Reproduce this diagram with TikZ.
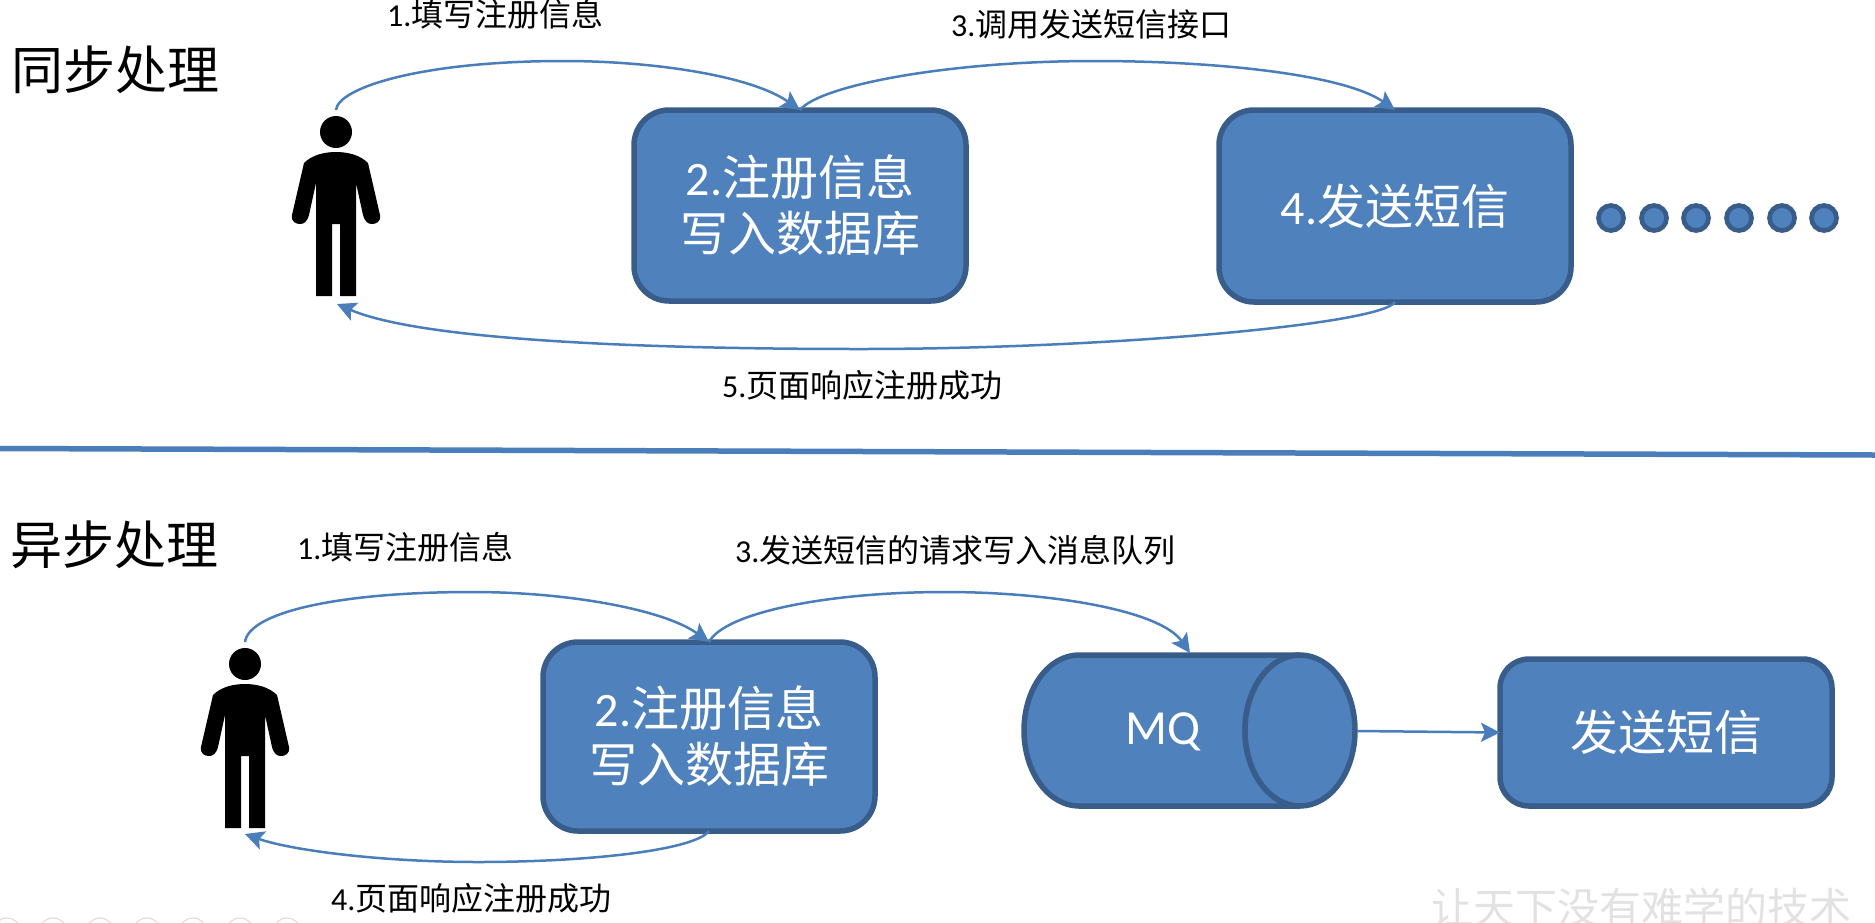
\documentclass[tikz,border=0pt]{standalone}
\usepackage{fontspec}
\usetikzlibrary{arrows.meta,shapes.geometric}
\setmainfont{Noto Sans CJK SC}
\newfontfamily\latfont{Carlito}
\definecolor{boxfill}{HTML}{4F81BD}
\definecolor{boxline}{HTML}{385D8A}
\definecolor{connline}{HTML}{4A7EBB}
\definecolor{wmark}{HTML}{E2E2E2}
\definecolor{faint}{HTML}{DCDCDC}
\tikzset{
  boxnode/.style={draw=boxline,fill=boxfill,line width=5.5pt,rounded corners=35pt,text=white,
    inner sep=0pt,outer sep=0pt,align=center,font=\fontsize{48}{56}\selectfont},
  smallbox/.style={boxnode,rounded corners=29pt},
  conn/.style={draw=connline,line width=2.5pt,-{Stealth[length=19pt,width=19pt,inset=4pt]}},
  steplabel/.style={inner sep=0pt,font=\fontsize{32}{36}\selectfont,text=black},
  titlelabel/.style={inner sep=0pt,font=\fontsize{52}{60}\selectfont,text=black},
  dotnode/.style={circle,draw=boxline,fill=boxfill,line width=4.7pt,minimum size=25pt,inner sep=0pt},
  figure shape/.pic={
    \fill[black] (0,22) circle[radius=16];
    \fill[black] (0,42) .. controls (12,42) and (24,45) .. (32,53)
      -- (44,105) .. controls (45,112) and (40,114) .. (36,114)
      .. controls (32,114) and (29,112) .. (27,105)
      -- (20,73) -- (20,186) -- (4,186) -- (4,114) -- (-4,114) -- (-4,186) -- (-20,186) -- (-20,73)
      -- (-27,105) .. controls (-29,112) and (-32,114) .. (-36,114)
      .. controls (-40,114) and (-45,112) .. (-44,105)
      -- (-32,53) .. controls (-24,45) and (-12,42) .. (0,42) -- cycle;
  }
}
\begin{document}
\begin{tikzpicture}[x=1pt,y=-1pt]
\useasboundingbox (0,0) rectangle (1875,922);
% titles
\node[titlelabel,anchor=west] (t1) at (11,70) {同步处理};
\node[titlelabel,anchor=west] (t2) at (10,545) {异步处理};
% divider
\coordinate (divl) at (0,448.5);
\coordinate (divr) at (1875,455);
\draw[connline,line width=5.5pt] (divl) -- (divr);
% people
\pic at (336,110) {figure shape};
\pic at (245,642) {figure shape};
\coordinate (p1top) at (336,110);
\coordinate (p1bot) at (337,304);
\coordinate (p2top) at (245,642);
\coordinate (p2bot) at (245,834);
% boxes
\node[boxnode,minimum width=332pt,minimum height=191pt] (a) at (800,205.5) {{\latfont 2.}注册信息\\写入数据库};
\node[boxnode,minimum width=352pt,minimum height=192pt] (b) at (1395,206) {{\latfont 4.}发送短信};
\node[boxnode,minimum width=332pt,minimum height=189pt] (c) at (709,736.5) {{\latfont 2.}注册信息\\写入数据库};
\node[smallbox,minimum width=332pt,minimum height=147pt] (d) at (1666,732.5) {发送短信};
% dots
\foreach \i/\x in {1/1611,2/1654,3/1696,4/1739,5/1782,6/1824}
  \node[dotnode] (dot\i) at (\x,218) {};
% MQ cylinder
\path[draw=boxline,fill=boxfill,line width=5.5pt]
  (1300,655) -- (1079,655) arc[start angle=270,end angle=90,x radius=55,y radius=75.5] -- (1300,806)
  arc[start angle=90,end angle=-90,x radius=-55,y radius=75.5];
\draw[boxline,fill=boxfill,line width=5.5pt] (1300,730.5) ellipse[x radius=55,y radius=75.5];
\node[inner sep=0pt,text=white,font=\latfont\fontsize{49}{56}\selectfont] (mqlabel) at (1163,732) {MQ};
\coordinate (mqr) at (1357,731);
\coordinate (mqin) at (1190,653);
% connectors
\draw[conn] (p1top) .. controls (338,88) and (420,61) .. (564,61) .. controls (650,61) and (750,75) .. (a.north);
\draw[conn] (a.north) .. controls (820,85) and (950,61) .. (1094,61) .. controls (1220,61) and (1345,75) .. (b.north);
\draw[conn] (b.south) .. controls (1380,325) and (1100,349) .. (861,349) .. controls (640,349) and (420,340) .. (p1bot);
\draw[conn] (p2top) .. controls (249,612) and (340,592) .. (472,592) .. controls (570,592) and (665,610) .. (c.north);
\draw[conn] (c.north) .. controls (725,612) and (830,592) .. (945,592) .. controls (1050,592) and (1160,610) .. (mqin);
\draw[conn] (c.south) .. controls (695,850) and (590,862) .. (478,862) .. controls (380,862) and (290,850) .. (p2bot);
\draw[conn] (mqr) -- (d.west);
% labels
\node[steplabel,anchor=west] (l1) at (387,14) {{\latfont 1.}填写注册信息};
\node[steplabel,anchor=west] (l2) at (951,24) {{\latfont 3.}调用发送短信接口};
\node[steplabel,anchor=west] (l3) at (722,385) {{\latfont 5.}页面响应注册成功};
\node[steplabel,anchor=west] (l4) at (297,547) {{\latfont 1.}填写注册信息};
\node[steplabel,anchor=west] (l5) at (735,550) {{\latfont 3.}发送短信的请求写入消息队列};
\node[steplabel,anchor=west] (l6) at (331,898) {{\latfont 4.}页面响应注册成功};
% bottom marks
\begin{scope}
  \clip (0,0) rectangle (1875,922);
  \foreach \i/\x in {1/7,2/53,3/100,4/147,5/193,6/240,7/287}
    \draw[faint,line width=1.2pt] (\x,932) circle[radius=14];
  \node[anchor=base,inner sep=0pt,text=wmark,font=\fontsize{42}{46}\selectfont] (wm) at (1641,923) {让天下没有难学的技术};
\end{scope}
\end{tikzpicture}
\end{document}
